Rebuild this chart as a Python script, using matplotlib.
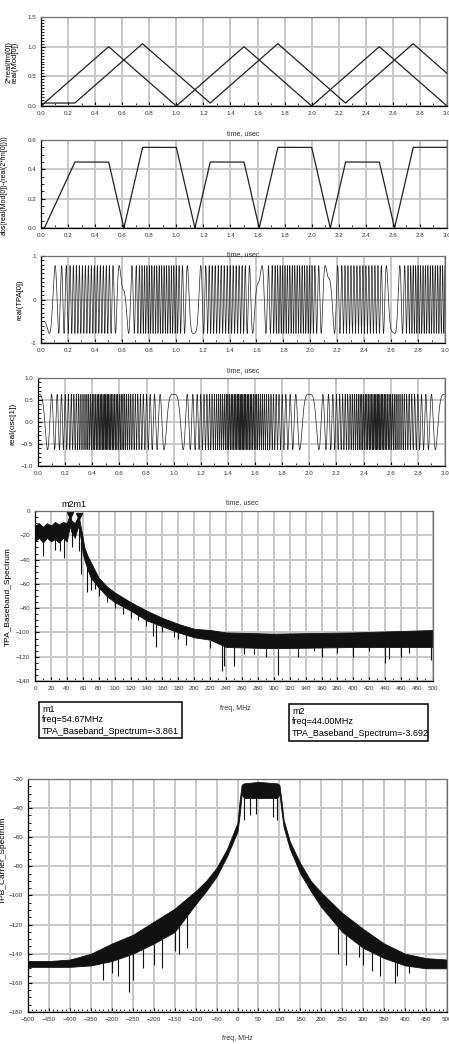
import numpy as np
import matplotlib.pyplot as plt
from matplotlib.patches import Rectangle
from matplotlib.ticker import MultipleLocator

plt.rcParams['font.family'] = ['Liberation Sans', 'DejaVu Sans']

W, H = 449, 1044

# --- panel 1: modulation triangles (time in usec)
mod_t = [0.0, 0.5, 1.0, 1.5, 2.0, 2.5, 3.0]
mod_v = [0.0, 1.0, 0.0, 1.0, 0.0, 1.0, 0.0]
fm_t = [0.0, 0.025, 0.25, 0.75, 1.25, 1.75, 2.25, 2.75, 3.0]
fm_v = [0.0, 0.05, 0.05, 1.05, 0.05, 1.05, 0.05, 1.05, 0.55]

freq_scale = 100.0   # MHz per unit of modulation
tpa_amp = 0.78
osc_amp = 0.63

# --- baseband spectrum (freq MHz, dB)
bb_f = [0, 5, 10, 15, 20, 25, 30, 35, 40, 42, 44, 46, 50, 53, 54.67, 56, 58, 60, 62, 66, 70,
        80, 90, 100, 120, 140, 160, 180, 200, 220, 240, 300, 400, 500]
bb_hi = [-12, -10, -13, -10, -12, -9, -11, -9, -10, -6, -3.7, -8, -10, -6, -3.9, -8, -15, -22,
         -30, -37, -42, -55, -62, -67, -75, -82, -88, -93, -97, -98, -100, -101, -100, -98]
bb_lo = [-25, -22, -26, -22, -25, -23, -26, -22, -25, -18, -12, -18, -22, -15, -12, -18, -25,
         -35, -40, -48, -55, -63, -70, -75, -82, -90, -95, -100, -104, -106, -112, -113, -112, -112]
bb_dip_f = [10, 25, 32, 37, 46, 55, 58, 65, 70, 75, 80, 90, 100, 110, 120, 130, 140, 148, 152,
            160, 175, 180, 190, 220, 230, 235, 237, 250, 262, 275, 290, 305, 330, 350, 360,
            380, 400, 420, 440, 445, 460, 470, 498]
bb_dip_v = [-37, -32, -33, -39, -30, -33, -52, -67, -65, -64, -70, -75, -80, -85, -88, -90, -95,
            -103, -112, -100, -104, -105, -110, -113, -109, -132, -128, -128, -118, -118, -120,
            -135, -120, -115, -120, -117, -120, -115, -125, -122, -120, -117, -123]
mark_f = [44.00, 54.67]
mark_v = [-3.692, -3.861]

# --- carrier spectrum (freq MHz, dB)
cr_f = [-500, -450, -400, -350, -300, -250, -200, -150, -100, -75, -50, -25, 0, 5, 10, 15,
        50, 95, 100, 105, 110, 125, 150, 175, 200, 250, 300, 350, 400, 450, 500]
cr_hi = [-145, -145, -144, -140, -133, -127, -118, -109, -97, -90, -81, -68, -50, -35, -24, -23,
         -22, -23, -24, -35, -48, -63, -78, -90, -98, -112, -123, -133, -140, -143, -144]
cr_lo = [-149, -149, -149, -148, -145, -140, -133, -125, -106, -97, -87, -73, -56, -45, -30, -33,
         -33, -33, -30, -42, -53, -68, -85, -97, -108, -125, -136, -143, -148, -150, -150]
cr_dip_f = [-320, -300, -285, -260, -250, -225, -200, -180, -150, -140, -120, 15, 30, 45, 85, 95,
            240, 260, 290, 300, 320, 340, 375, 380, 410]
cr_dip_v = [-158, -153, -155, -166, -158, -150, -148, -150, -138, -140, -136, -48, -45, -44, -46,
            -48, -140, -148, -142, -148, -152, -155, -160, -155, -153]


def px_axes(fig, l, t, r, b):
    return fig.add_axes([l / W, 1 - b / H, (r - l) / W, (b - t) / H])


def style(ax):
    ax.grid(True, which='major', color='#c8c8c8', linewidth=1.4)
    ax.set_axisbelow(True)
    ax.tick_params(which='both', direction='in', labelsize=4.5, labelcolor='#333333',
                   top=False, right=False)
    ax.tick_params(which='major', length=3, width=0.8)
    ax.tick_params(which='minor', length=2, width=0.6)
    for s in ['left', 'bottom']:
        ax.spines[s].set_color('black')
        ax.spines[s].set_linewidth(0.9)
    for s in ['top', 'right']:
        ax.spines[s].set_color('#707070')
        ax.spines[s].set_linewidth(0.9)


def ftext(x, y, s, **kw):
    fig.text(x / W, 1 - y / H, s, **kw)


fig = plt.figure(figsize=(W / 100, H / 100), dpi=100)

t = np.linspace(0, 3, 60001)
mod = np.interp(t, mod_t, mod_v)
fm = np.interp(t, fm_t, fm_v)
diff = np.abs(mod - fm)
dt = t[1] - t[0]

time_ticks = np.arange(0, 3.01, 0.2)

# panel 1
ax1 = px_axes(fig, 41, 17, 447, 106)
ax1.plot(mod_t, mod_v, color='#222222', lw=0.9)
ax1.plot(fm_t, fm_v, color='#222222', lw=0.9)
ax1.set_xlim(0, 3)
ax1.set_ylim(0, 1.5)
ax1.set_xticks(time_ticks)
ax1.set_yticks([0, 0.5, 1.0, 1.5])
ax1.xaxis.set_minor_locator(MultipleLocator(0.1))
ax1.yaxis.set_minor_locator(MultipleLocator(0.05))
style(ax1)
ftext(12, 62, '2*real(fm[0])\nreal(Mod[0])', rotation=90, fontsize=5.5, ha='center', va='center',
      linespacing=0.9)
ftext(243, 134, 'time, usec', fontsize=5, ha='center', va='center', color='#333333')

# panel 2
ax2 = px_axes(fig, 41, 140, 447, 228)
ax2.plot(t, diff, color='#222222', lw=0.9)
ax2.set_xlim(0, 3)
ax2.set_ylim(0, 0.6)
ax2.set_xticks(time_ticks)
ax2.set_yticks([0, 0.2, 0.4, 0.6])
ax2.xaxis.set_minor_locator(MultipleLocator(0.1))
ax2.yaxis.set_minor_locator(MultipleLocator(0.05))
style(ax2)
ftext(4, 185, 'abs(real(Mod[0])-(real(2*fm[0])))', rotation=90, fontsize=5, ha='center',
      va='center')
ftext(243, 255, 'time, usec', fontsize=5, ha='center', va='center', color='#333333')

# panel 3
tpa_phase = 2 * np.pi * np.cumsum(freq_scale * diff) * dt
tpa = tpa_amp * np.cos(tpa_phase + 2.27)
ax3 = px_axes(fig, 41, 256, 445, 343)
ax3.plot(t, tpa, color='#222222', lw=0.5)
ax3.set_xlim(0, 3)
ax3.set_ylim(-1, 1)
ax3.set_xticks(time_ticks)
ax3.set_yticks([-1, 0, 1])
ax3.set_yticklabels(['-1', '0', '1'])
ax3.xaxis.set_minor_locator(MultipleLocator(0.1))
ax3.yaxis.set_minor_locator(MultipleLocator(0.1))
style(ax3)
ftext(20, 300, 'real(TPA[0])', rotation=90, fontsize=5.5, ha='center', va='center')
ftext(243, 371, 'time, usec', fontsize=5, ha='center', va='center', color='#333333')

# panel 4
osc_phase = 2 * np.pi * np.cumsum(freq_scale * mod) * dt
osc = osc_amp * np.cos(osc_phase)
ax4 = px_axes(fig, 38, 378, 445, 466)
ax4.plot(t, osc, color='#222222', lw=0.5)
ax4.set_xlim(0, 3)
ax4.set_ylim(-1, 1)
ax4.set_xticks(time_ticks)
ax4.set_yticks([-1, -0.5, 0, 0.5, 1])
ax4.xaxis.set_minor_locator(MultipleLocator(0.1))
ax4.yaxis.set_minor_locator(MultipleLocator(0.1))
style(ax4)
ftext(13, 424, 'real(osc[1])', rotation=90, fontsize=6, ha='center', va='center')
ftext(242, 503, 'time, usec', fontsize=5, ha='center', va='center', color='#333333')

# panel 5
ax5 = px_axes(fig, 35, 511, 433, 681)
ax5.fill_between(bb_f, bb_lo, bb_hi, color='#111111', lw=0.6)
ax5.vlines(bb_dip_f, np.interp(bb_dip_f, bb_f, bb_lo), bb_dip_v, color='#111111', lw=0.8)
ax5.plot(mark_f, mark_v, 'v', color='#111111', ms=4, clip_on=False)
ax5.set_xlim(0, 500)
ax5.set_ylim(-140, 0)
ax5.set_xticks(np.arange(0, 501, 20))
ax5.set_yticks(np.arange(-140, 1, 20))
ax5.xaxis.set_minor_locator(MultipleLocator(10))
ax5.yaxis.set_minor_locator(MultipleLocator(5))
style(ax5)
ftext(74, 504, 'm2m1', fontsize=6.5, ha='center', va='center')
ftext(8, 597, 'TPA_Baseband_Spectrum', rotation=90, fontsize=6, ha='center', va='center')
ftext(235, 709, 'freq, MHz', fontsize=5, ha='center', va='center', color='#333333')

# marker readout boxes
boxes = [(39, 702, 182, 738, 'm1', mark_f[1], -3.861),
         (289, 704, 428, 741, 'm2', mark_f[0], -3.692)]
for l, tp, r, b, name, f, v in boxes:
    fig.patches.append(Rectangle((l / W, 1 - b / H), (r - l) / W, (b - tp) / H,
                                 transform=fig.transFigure, fill=False, ec='black', lw=1.1))
    ftext(l + 3, tp + 7, name, fontsize=6.5, va='center')
    ftext(l + 3, tp + 18, 'freq=%.2fMHz' % f, fontsize=6.5, va='center')
    ftext(l + 3, tp + 29, 'TPA_Baseband_Spectrum=%.3f' % v, fontsize=6.5, va='center')

# panel 6
ax6 = px_axes(fig, 28, 779, 447, 1012)
ax6.fill_between(cr_f, cr_lo, cr_hi, color='#111111', lw=0.6)
ax6.vlines(cr_dip_f, np.interp(cr_dip_f, cr_f, cr_lo), cr_dip_v, color='#111111', lw=0.8)
ax6.set_xlim(-500, 500)
ax6.set_ylim(-180, -20)
ax6.set_xticks(np.arange(-500, 501, 50))
ax6.set_yticks(np.arange(-180, -19, 20))
ax6.xaxis.set_minor_locator(MultipleLocator(10))
ax6.yaxis.set_minor_locator(MultipleLocator(5))
style(ax6)
ftext(3, 860, 'TPB_Carrier_Spectrum', rotation=90, fontsize=6, ha='center', va='center')
ftext(237, 1039, 'freq, MHz', fontsize=5, ha='center', va='center', color='#333333')

fig.savefig('out.png', dpi=100)
